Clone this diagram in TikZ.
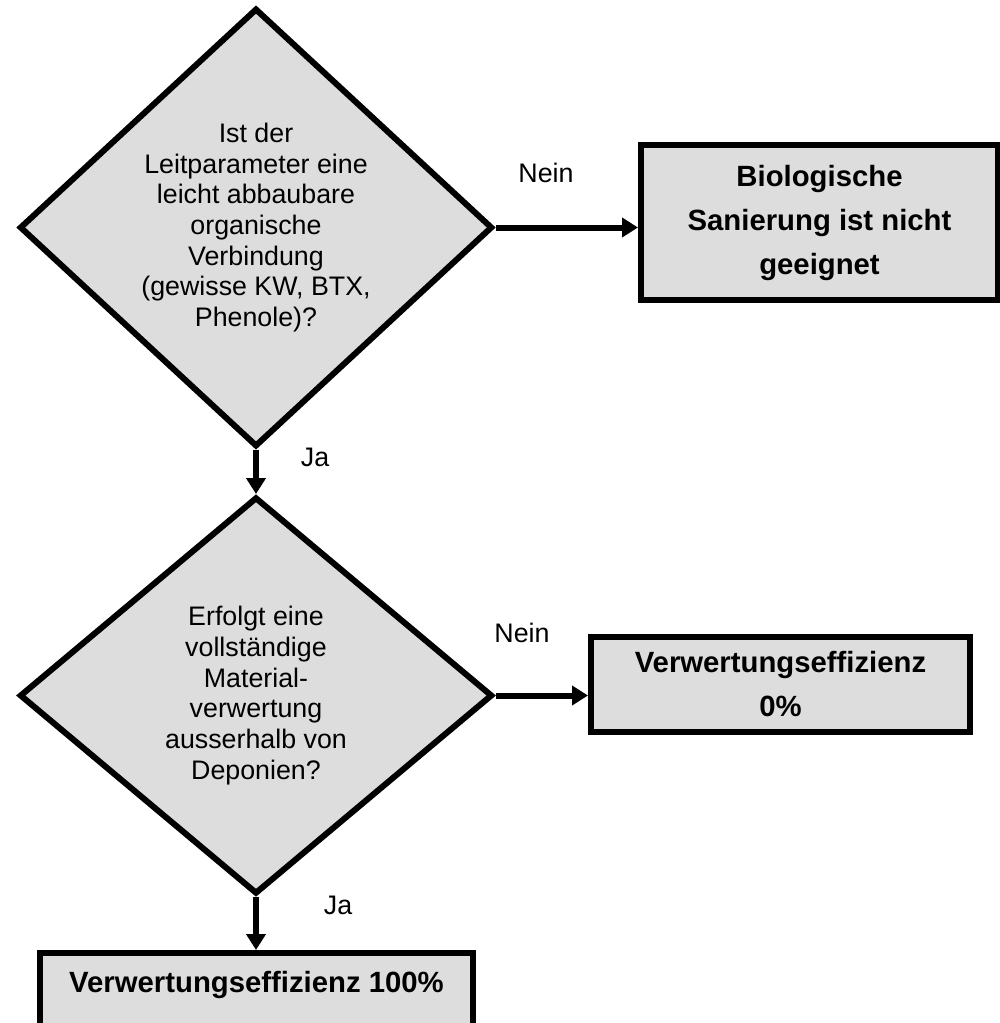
\documentclass[tikz,border=0pt]{standalone}
\usepackage{fontspec}
\setmainfont{Liberation Sans}
\usetikzlibrary{shapes.geometric,arrows.meta}
\definecolor{boxfill}{RGB}{221,221,221}
\begin{document}
\begin{tikzpicture}[x=1pt,y=-1pt,
  decision/.style={diamond, draw, line width=6pt, fill=boxfill, inner sep=0pt,
    align=center, font=\fontsize{26.8}{30.7}\selectfont},
  outcome/.style={rectangle, draw, line width=6pt, fill=boxfill, inner sep=0pt,
    align=center, font=\fontsize{29.3}{44}\selectfont\bfseries},
  answer/.style={font=\fontsize{26.8}{30.7}\selectfont, inner sep=0pt},
  flow/.style={line width=6pt, -{Triangle[length=16pt,width=19pt]}}]
  \useasboundingbox (0,0) rectangle (1000,1023);
  \clip (0,0) rectangle (1000,1023);

  % first question and its "no" outcome
  \node[decision, minimum width=473, minimum height=423] (q1) at (256,227.5)
    {Ist der\\Leitparameter eine\\leicht abbaubare\\organische\\Verbindung\\(gewisse KW, BTX,\\Phenole)?};
  \node[outcome, minimum width=357, minimum height=155] (bio) at (819.5,222.5)
    {Biologische\\Sanierung ist nicht\\geeignet};

  % second question and its outcomes
  \node[decision, minimum width=473, minimum height=397] (q2) at (256,695.5)
    {Erfolgt eine\\vollständige\\Material-\\verwertung\\ausserhalb von\\Deponien?};
  \node[outcome, minimum width=379, minimum height=95] (eff0) at (780.5,684.5)
    {Verwertungseffizienz\\0\%};
  \node[outcome, minimum width=433, minimum height=80] (eff100) at (256.5,993)
    {};
  \node[font=\fontsize{29.3}{44}\selectfont\bfseries, inner sep=0pt] (eff100t) at (256.5,985)
    {Verwertungseffizienz 100\%};

  % connectors
  \draw[flow] (q1.east) -- (q1.east -| bio.west);
  \draw[flow] (q1.south) -- (q2.north);
  \draw[flow] (q2.east) -- (q2.east -| eff0.west);
  \draw[flow] (q2.south) -- (q2.south |- eff100.north);

  % answer labels
  \node[answer] (n1) at (546,173) {Nein};
  \node[answer] (j1) at (315,457) {Ja};
  \node[answer] (n2) at (522,633) {Nein};
  \node[answer] (j2) at (338,905) {Ja};
\end{tikzpicture}
\end{document}
